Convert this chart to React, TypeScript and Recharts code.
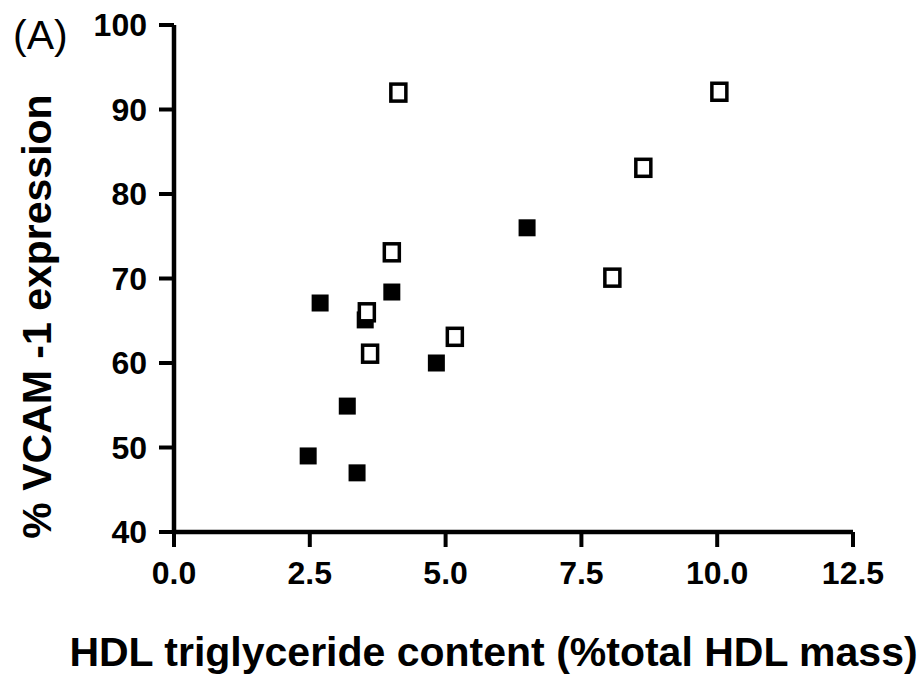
import { ScatterChart, Scatter, XAxis, YAxis, Label } from "recharts";

// HDL triglyceride content (% total HDL mass) vs % VCAM-1 expression
const filledX = [2.47, 2.69, 3.19, 3.37, 3.52, 4.01, 4.83, 6.5];
const filledY = [49, 67.1, 54.9, 47, 65.1, 68.4, 60, 76];
const openX = [4.13, 4.01, 3.55, 3.61, 5.17, 8.07, 8.64, 10.04];
const openY = [92, 73.1, 66, 61.1, 63.1, 70.1, 83.1, 92.1];

const xTicks = [0, 2.5, 5, 7.5, 10, 12.5];
const yTicks = [40, 50, 60, 70, 80, 90, 100];

const filled = filledX.map((x, i) => ({ x, y: filledY[i] }));
const open = openX.map((x, i) => ({ x, y: openY[i] }));

const FONT = "'Liberation Sans', Arial, Helvetica, sans-serif";

const tickStyle = {
  fill: "#000",
  fontSize: 32,
  fontWeight: 700,
  fontFamily: FONT,
};

const axisLine = { stroke: "#000", strokeWidth: 4.5 };
const tickLine = { stroke: "#000", strokeWidth: 4 };

const FilledSquare = (props: any) => {
  const { cx, cy } = props;
  return <rect x={cx - 8.5} y={cy - 8.5} width={17} height={17} fill="#000" />;
};

const OpenSquare = (props: any) => {
  const { cx, cy } = props;
  return (
    <rect
      x={cx - 7.5}
      y={cy - 8.5}
      width={15}
      height={17}
      fill="#fff"
      stroke="#000"
      strokeWidth={3.5}
    />
  );
};

export default function App() {
  return (
    <div style={{ position: "absolute", left: 0, top: 0, width: 919, height: 675, background: "#fff" }}>
      <div
        style={{
          position: "absolute",
          left: 13,
          top: 12,
          fontFamily: FONT,
          fontSize: 41,
          lineHeight: "46px",
          color: "#000",
        }}
      >
        (A)
      </div>
      <ScatterChart
        width={919}
        height={675}
        margin={{ top: 25, right: 66, bottom: 83, left: 74 }}
      >
        <XAxis
          type="number"
          dataKey="x"
          domain={[0, 12.5]}
          ticks={xTicks}
          tickFormatter={(v: number) => v.toFixed(1)}
          tick={tickStyle}
          tickSize={15}
          tickMargin={14}
          stroke="#000"
          strokeWidth={4.5}
          axisLine={axisLine}
          tickLine={tickLine}
          height={60}
          allowDataOverflow
        >
          <Label
            content={(p: any) => {
              const vb = p.viewBox;
              return (
                <text
                  x={vb.x + vb.width / 2 - 20}
                  y={666}
                  textAnchor="middle"
                  fontFamily={FONT}
                  fontWeight={700}
                  fontSize={41}
                  fill="#000"
                >
                  HDL triglyceride content (%total HDL mass)
                </text>
              );
            }}
          />
        </XAxis>
        <YAxis
          type="number"
          dataKey="y"
          domain={[40, 100]}
          ticks={yTicks}
          tick={tickStyle}
          tickSize={15}
          tickMargin={12}
          stroke="#000"
          strokeWidth={4.5}
          axisLine={axisLine}
          tickLine={tickLine}
          width={100}
          allowDataOverflow
        >
          <Label
            content={(p: any) => {
              const vb = p.viewBox;
              const cx = 37;
              const cy = vb.y + vb.height / 2 + 38;
              return (
                <text
                  x={cx}
                  y={cy}
                  transform={`rotate(-90 ${cx} ${cy})`}
                  textAnchor="middle"
                  dominantBaseline="central"
                  fontFamily={FONT}
                  fontWeight={700}
                  fontSize={41}
                  fill="#000"
                >
                  % VCAM -1 expression
                </text>
              );
            }}
          />
        </YAxis>
        <Scatter data={filled} shape={FilledSquare} isAnimationActive={false} />
        <Scatter data={open} shape={OpenSquare} isAnimationActive={false} />
      </ScatterChart>
    </div>
  );
}
